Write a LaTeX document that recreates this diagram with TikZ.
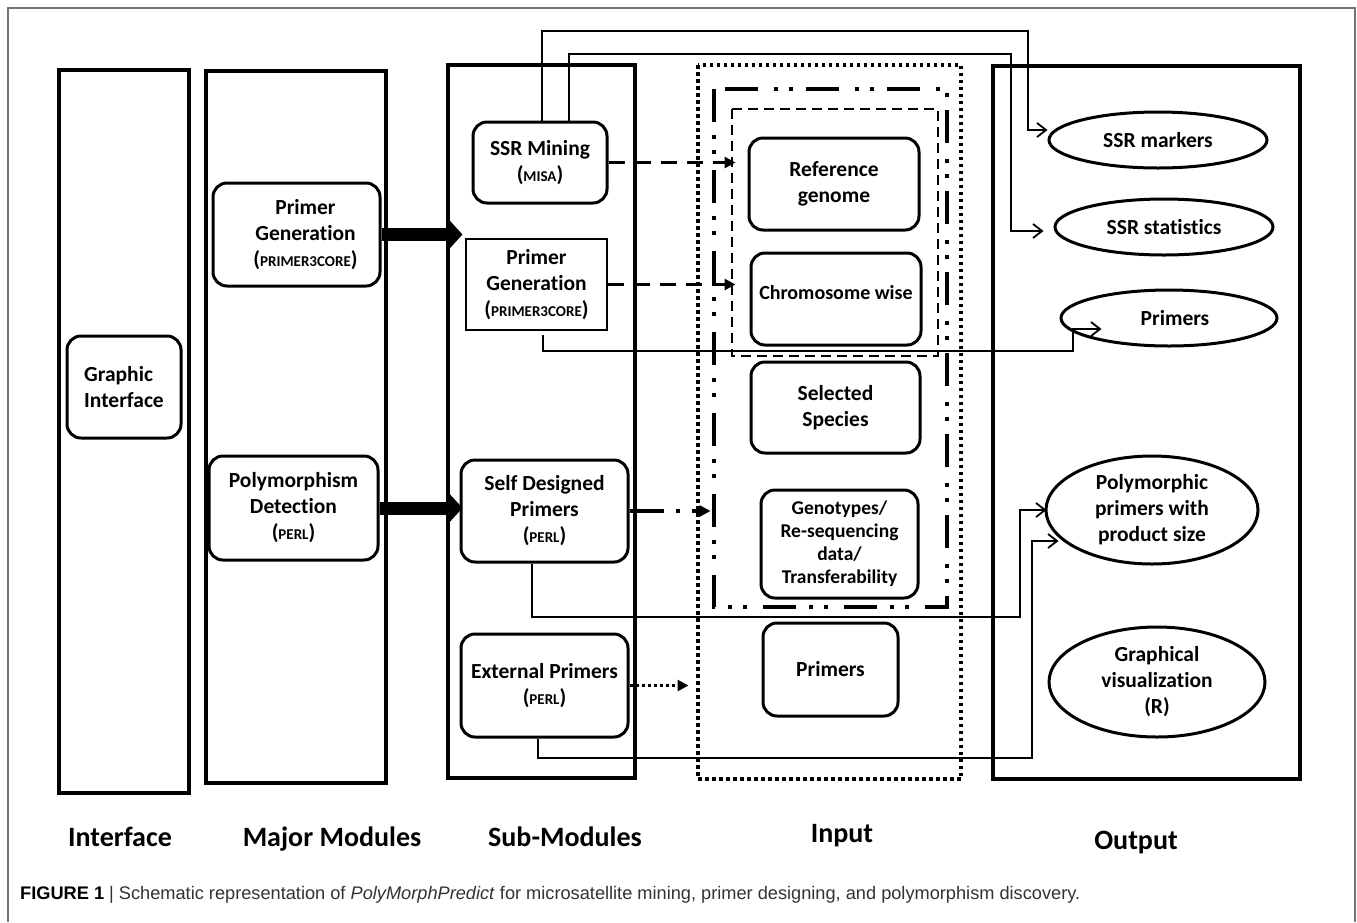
\documentclass[tikz,border=0pt]{standalone}
\usepackage{fontspec}
\setmainfont{Carlito}[Ligatures={NoCommon}]
\newfontfamily\capfont{Liberation Sans}
\usetikzlibrary{arrows.meta,shapes.geometric,calc}
\newcommand\smc[1]{{\fontsize{15}{26}\selectfont #1}}
\begin{document}
\begin{tikzpicture}[x=1pt,y=-1pt,
  every node/.style={font=\fontsize{21.5}{26}\selectfont\bfseries, inner sep=0pt},
  colbox/.style={draw, line width=3.2pt},
  rbox/.style={draw, line width=3pt, rounded corners=14pt, align=center},
  oval/.style={draw, ellipse, line width=3pt, align=center, inner sep=0pt},
  conn/.style={line width=2pt},
  opentip/.style={-{Straight Barb[length=9pt,width=14pt,line width=1.8pt]}},
  bigarrow/.style={line width=13pt, -{Triangle[length=16pt,width=34pt]}},
  dasharr/.style={line width=3.5pt, dash pattern=on 16pt off 10pt, -{Triangle[length=11pt,width=11pt]}},
  dotdasharr/.style={line width=4pt, dash pattern=on 34pt off 12pt on 4pt off 12pt, -{Triangle[length=11pt,width=11pt]}},
  dotarr/.style={line width=3.5pt, dash pattern=on 3pt off 3pt, -{Triangle[length=11pt,width=11pt]}},
  collabel/.style={anchor=base, font=\fontsize{28}{30}\selectfont\bfseries},
]
\fill[white] (0,0) rectangle (1357,922);
\path[use as bounding box] (0,0) rectangle (1357,922);
% outer frame
\draw[black!55, line width=1.3pt] (8,922) -- (8,8) -- (1355,8) -- (1355,922);

% columns
\draw[colbox] (59,70) rectangle (189,793);
\draw[colbox] (206,71) rectangle (386,783);
\draw[colbox] (448,65) rectangle (635,778);
\draw[colbox] (993,66) rectangle (1300,779);

% input containers
\draw[line width=3.6pt, dash pattern=on 3.5pt off 3.5pt] (698,65) rectangle (961,779);
\draw[line width=4pt, dash pattern=on 33pt off 13pt on 4pt off 11pt on 4pt off 16pt] (714,89) rectangle (947,607);
\draw[line width=2.5pt, dash pattern=on 10pt off 6pt] (732,109) rectangle (938,356);

% interface
\node[rbox, align=left, minimum width=114pt, minimum height=102pt] (gi) at (124,387) {Graphic\\Interface};

% major modules
\node[rbox, minimum width=167pt, minimum height=103pt] (pgm) at (296.5,234.5) {\hspace*{18pt}Primer\\\hspace*{18pt}Generation\\\hspace*{18pt}(\smc{PRIMER3CORE})};
\node[rbox, minimum width=169pt, minimum height=104pt] (pdm) at (293.5,508) {Polymorphism\\Detection\\(\smc{PERL})};

% sub modules
\node[rbox, minimum width=134pt, minimum height=81pt] (ssr) at (540,162.5) {SSR Mining\\(\smc{MISA})};
\node[draw, line width=1.5pt, align=center, minimum width=141pt, minimum height=91pt] (pgs) at (536.5,284.5) {Primer\\Generation\\(\smc{PRIMER3CORE})};
\node[rbox, minimum width=167pt, minimum height=102pt] (sdp) at (544.5,511) {Self Designed\\Primers\\(\smc{PERL})};
\node[rbox, minimum width=167pt, minimum height=103pt] (ext) at (544.5,685.5) {External Primers\\(\smc{PERL})};

% inputs
\node[rbox, minimum width=170pt, minimum height=92pt] (ref) at (834,184) {Reference\\genome};
\node[rbox, minimum width=170pt, minimum height=92pt, font=\fontsize{20}{26}\selectfont\bfseries] (chr) at (836,299) {\raisebox{14pt}{Chromosome wise}};
\node[rbox, minimum width=169pt, minimum height=91pt] (sel) at (835.5,407.5) {Selected\\Species};
\node[rbox, minimum width=157pt, minimum height=108pt, font=\fontsize{19.5}{23}\selectfont\bfseries] (gen) at (839.5,544) {Genotypes/\\Re-sequencing\\data/\\Transferability};
\node[rbox, minimum width=135pt, minimum height=93pt] (pri) at (830.5,669.5) {Primers};

% outputs
\node[oval, minimum width=218pt, minimum height=56pt] (o1) at (1158,140) {SSR markers};
\node[oval, minimum width=218pt, minimum height=56pt] (o2) at (1164,227) {SSR statistics};
\node[oval, minimum width=216pt, minimum height=56pt] (o3) at (1169,318) {\hspace*{12pt}Primers};
\node[oval, minimum width=212pt, minimum height=108pt] (o4) at (1152,510) {Polymorphic\\primers with\\product size};
\node[oval, minimum width=216pt, minimum height=110pt] (o5) at (1157,682) {Graphical\\visualization\\(R)};

% thick arrows
\draw[bigarrow] (pgm.east) -- ($(pgm.east)+(81,0)$);
\draw[bigarrow] (pdm.east) -- ($(pdm.east)+(83,0)$);

% dashed arrows to inputs
\draw[dasharr] (ssr.east) -- ($(ssr.east -| ref.west)+(-12,0)$);
\draw[dasharr] (pgs.east) -- ($(pgs.east -| chr.west)+(-14,0)$);
\draw[dotdasharr] (sdp.east) -- ($(sdp.east -| gen.west)+(-49,0)$);
\draw[dotarr] (ext.east) -- ($(ext.east -| pri.west)+(-73,0)$);

% output connectors
\draw[conn, opentip] ([xshift=2pt]ssr.north) |- (1028,31) |- ([yshift=10pt]o1.west);
\draw[conn, opentip] ([xshift=29pt]ssr.north) |- (1011,54) |- ([xshift=-10pt,yshift=-4pt]o2.west);
\draw[conn, opentip] ([xshift=6.5pt,yshift=-4pt]pgs.south) |- (1073,351) |- ([xshift=42pt,yshift=-11pt]o3.west);
\draw[conn, opentip] ([xshift=-12.5pt]sdp.south) |- (1020,617) |- ([xshift=2pt]o4.west);
\draw[conn, opentip] ([xshift=-6.5pt]ext.south) |- (1032,758) |- ([xshift=14pt,yshift=-31pt]o4.west);

% column labels
\node[collabel] (lint) at (120,846) {Interface};
\node[collabel] (lmaj) at (332,846) {Major Modules};
\node[collabel] (lsub) at (565,846) {Sub-Modules};
\node[collabel] (linp) at (842,842) {Input};
\node[collabel] (lout) at (1136,849) {Output};

% caption
\node[anchor=base west, font=\capfont\fontsize{18.2}{20}\selectfont, text=black!80] (cap) at (20,899)
  {\textbf{\color{black}FIGURE 1} | Schematic representation of \textit{PolyMorphPredict} for microsatellite mining, primer designing, and polymorphism discovery.};
\end{tikzpicture}
\end{document}
